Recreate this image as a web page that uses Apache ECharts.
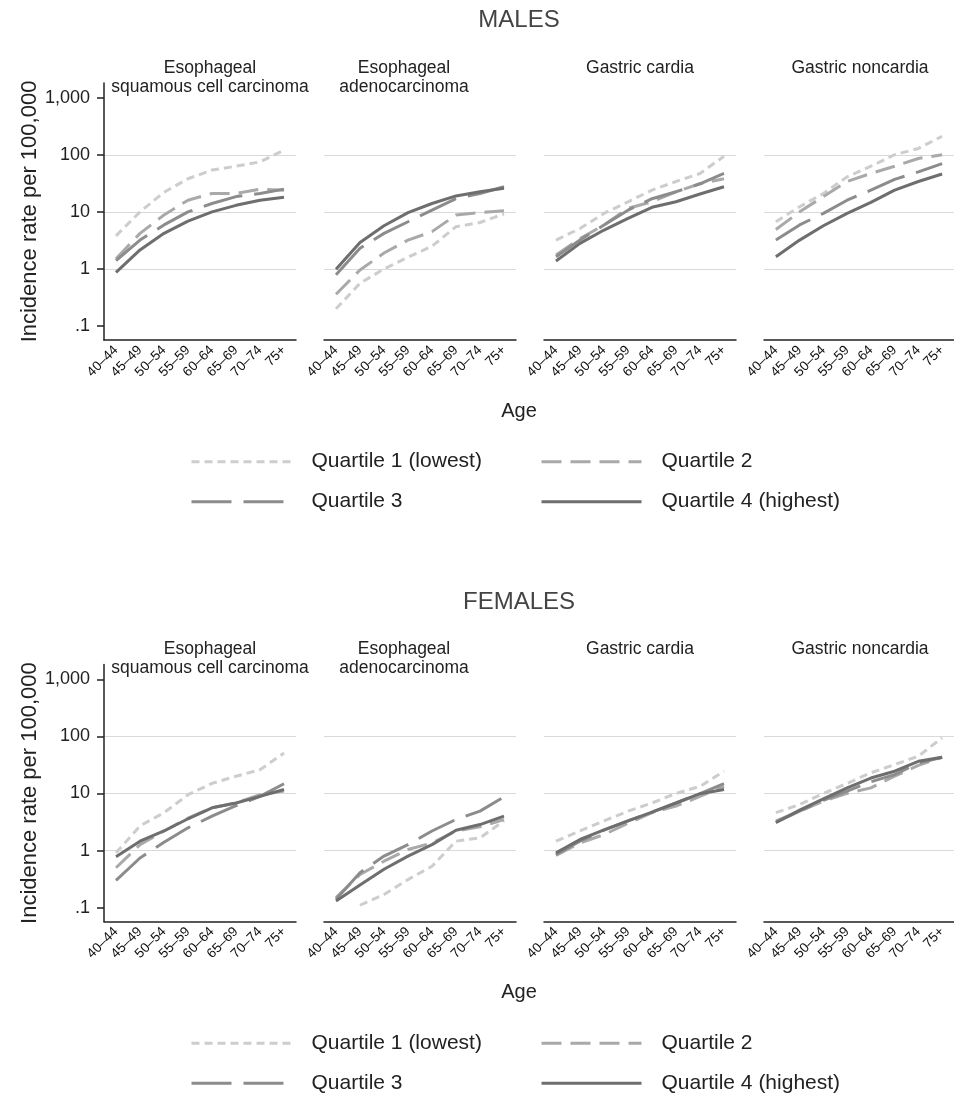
<!DOCTYPE html>
<html>
<head>
<meta charset="utf-8">
<script src="https://cdn.jsdelivr.net/npm/echarts@6/dist/echarts.min.js"></script>
<style>
  html, body { margin: 0; padding: 0; background: #fff; }
  #chart { width: 954px; height: 1096px; }
</style>
</head>
<body>
<div id="chart"></div>
<script>
// ---- data ----
const ages = ["40–44", "45–49", "50–54", "55–59", "60–64", "65–69", "70–74", "75+"];
const quartiles = ["Quartile 1 (lowest)", "Quartile 2", "Quartile 3", "Quartile 4 (highest)"];
const sites = ["Esophageal\nsquamous cell carcinoma", "Esophageal\nadenocarcinoma", "Gastric cardia", "Gastric noncardia"];
const sexes = ["MALES", "FEMALES"];
const yTicks = [0.1, 1, 10, 100, 1000];

// rows: quartile 1..4, columns: age groups
const maleEscc = [
  [3.8, 10, 22, 38, 54, 63, 75, 120],
  [1.5, 4.2, 8.8, 16, 21, 21, 25, 24],
  [1.4, 3.2, 5.9, 10, 14, 18.5, 21, 25],
  [0.87, 2.15, 4.2, 6.9, 10, 13, 16, 18]
];
const maleEac = [
  [0.2, 0.56, 1.0, 1.6, 2.5, 5.5, 6.5, 9.2],
  [0.36, 0.96, 1.9, 3.2, 4.5, 8.8, 9.7, 10.5],
  [0.79, 2.3, 4.2, 6.7, 10.7, 17, 21, 27.5],
  [0.99, 2.9, 5.7, 9.7, 14, 19, 22.5, 26]
];
const maleCardia = [
  [3.2, 5.1, 9.4, 15, 24, 34, 47, 94],
  [1.76, 3.4, 5.9, 11.5, 15, 22.5, 31, 38],
  [1.64, 3.2, 5.9, 10.7, 17, 22.5, 31, 47],
  [1.38, 2.8, 4.8, 7.7, 12, 15, 20.5, 27.5]
];
const maleNoncardia = [
  [6.7, 12.3, 21, 41, 63, 100, 129, 211],
  [4.9, 10, 18.5, 34, 47, 63, 86, 100],
  [3.2, 5.9, 9.4, 16, 24, 37, 50, 70],
  [1.64, 3.2, 5.7, 9.4, 14.7, 24, 34, 46]
];
const femaleEscc = [
  [0.91, 2.7, 4.6, 9.5, 15, 20, 26, 51],
  [0.5, 1.27, 2.2, 3.7, 5.6, 6.8, 9.5, 11],
  [0.3, 0.74, 1.4, 2.5, 4.0, 6.1, 8.9, 14.8],
  [0.78, 1.46, 2.2, 3.6, 5.6, 6.8, 8.9, 11.7]
];
const femaleEac = [
  [null, 0.11, 0.17, 0.31, 0.53, 1.46, 1.67, 3.3],
  [0.15, 0.38, 0.65, 1.04, 1.36, 2.2, 2.6, 3.5],
  [0.14, 0.41, 0.8, 1.27, 2.2, 3.5, 4.9, 8.7],
  [0.13, 0.25, 0.47, 0.8, 1.27, 2.27, 2.85, 4.0]
];
const femaleCardia = [
  [1.46, 2.2, 3.3, 4.9, 6.8, 10, 13.3, 24.5],
  [0.82, 1.36, 1.9, 3.0, 4.6, 6.0, 8.9, 13.3],
  [0.85, 1.46, 2.27, 3.3, 4.7, 6.8, 9.9, 14.8],
  [0.91, 1.56, 2.3, 3.3, 4.7, 6.8, 9.9, 11.7]
];
const femaleNoncardia = [
  [4.6, 6.4, 10, 15, 23, 32, 45, 94],
  [3.3, 4.9, 7.3, 10, 12.5, 20, 31, 43],
  [3.1, 4.9, 7.6, 11, 16, 21.4, 34, 43],
  [3.1, 5.1, 8.0, 12.5, 18.6, 24.5, 36.6, 43]
];
const panels = [
  [maleEscc, maleEac, maleCardia, maleNoncardia],
  [femaleEscc, femaleEac, femaleCardia, femaleNoncardia]
];

// ---- layout / style ----
const FONT = "'Liberation Sans', Arial, sans-serif";
const INK = "#222";
const lineColors = ["#cdcdcd", "#a9a9a9", "#8c8c8c", "#6e6e6e"];
const lineDashes = [[8, 5], [20, 9], [40, 12], "solid"];
const panelLeft = [104, 324, 544, 764];
const panelWidth = 192;
const titleX = [210, 404, 640, 860];
const sexShift = [0, 581.6];
const gridTop = 83, gridHeight = 257;

const fmt = (v) => {
  const n = Number(v.toPrecision(6));
  return n < 1 ? String(n).slice(1) : n.toLocaleString("en-US");
};

const grid = [], xAxis = [], yAxis = [], series = [], legend = [], graphic = [];

sexes.forEach((sex, s) => {
  const dy = sexShift[s];
  graphic.push({
    type: "text", x: 519, y: 20.5 + dy,
    style: { text: sex, font: `24px ${FONT}`, fill: "#444", align: "center", verticalAlign: "middle" }
  });
  graphic.push({
    type: "text", x: 519, y: 411 + dy,
    style: { text: "Age", font: `20px ${FONT}`, fill: INK, align: "center", verticalAlign: "middle" }
  });

  sites.forEach((site, p) => {
    const idx = s * 4 + p;
    graphic.push({
      type: "text", x: titleX[p], y: 58.5 + dy,
      style: { text: site, font: `17.5px ${FONT}`, fill: INK, align: "center", verticalAlign: "top", lineHeight: 19 }
    });
    grid.push({ left: panelLeft[p], top: gridTop + dy, width: panelWidth, height: gridHeight });
    xAxis.push({
      type: "category", gridIndex: idx, data: ages, boundaryGap: true,
      axisLine: { lineStyle: { color: INK, width: 1.5 } },
      axisTick: { alignWithLabel: true, length: 7, lineStyle: { color: INK, width: 1.5 } },
      axisLabel: { rotate: 45, interval: 0, fontSize: 13.5, color: "#111", fontFamily: FONT, margin: 8 },
      splitLine: { show: false }
    });
    yAxis.push({
      type: "log", logBase: 10, gridIndex: idx, min: 0.0569, max: 1807,
      name: p === 0 ? "Incidence rate per 100,000" : "",
      nameLocation: "middle", nameGap: 62, nameRotate: 90,
      nameTextStyle: { fontSize: 22, color: INK, fontFamily: FONT },
      axisLine: { show: p === 0, lineStyle: { color: INK, width: 1.5 } },
      axisTick: { show: p === 0, length: 7, customValues: yTicks, lineStyle: { color: INK, width: 1.5 } },
      axisLabel: {
        show: p === 0, customValues: yTicks, formatter: fmt,
        fontSize: 18, color: INK, fontFamily: FONT, margin: 14
      },
      splitLine: { show: true, showMinLine: false, showMaxLine: false, lineStyle: { color: "#d9d9d9", width: 1 } }
    });
    panels[s][p].forEach((vals, q) => {
      series.push({
        type: "line", name: quartiles[q], xAxisIndex: idx, yAxisIndex: idx,
        data: vals, symbol: "none", showSymbol: false, connectNulls: false, silent: true, z: 2 + q,
        lineStyle: { color: lineColors[q], width: 3, type: lineDashes[q], cap: "butt" },
        itemStyle: { color: lineColors[q] }
      });
    });
  });

  quartiles.forEach((name, q) => {
    legend.push({
      data: [name], left: q % 2 ? 540 : 190, top: 451.2 + dy + (q >= 2 ? 40 : 0),
      padding: 0, itemWidth: 100, itemHeight: 14, selectedMode: false,
      lineStyle: { width: 3, type: lineDashes[q], color: lineColors[q] },
      itemStyle: { color: "rgba(0,0,0,0)", borderWidth: 0, opacity: 0 },
      textStyle: { fontSize: 21, color: INK, fontFamily: FONT, padding: [0, 0, 0, 15] }
    });
  });
});

const chart = echarts.init(document.getElementById("chart"), null, { renderer: "canvas" });
chart.setOption({
  animation: false,
  backgroundColor: "#fff",
  textStyle: { fontFamily: FONT },
  grid, xAxis, yAxis, series, legend, graphic
});
</script>
</body>
</html>
